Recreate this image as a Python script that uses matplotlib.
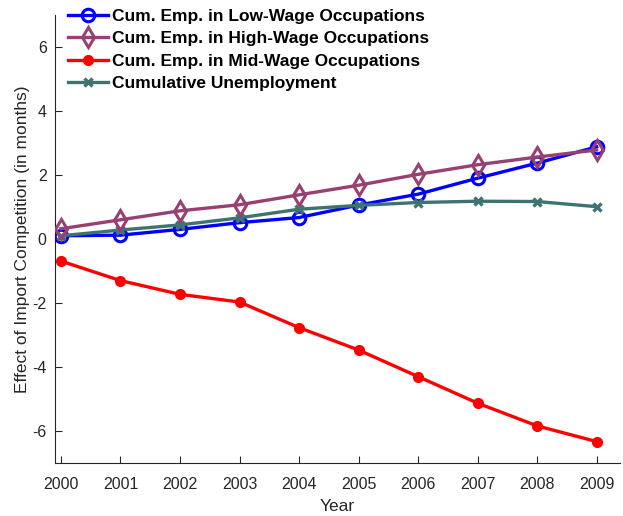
import matplotlib
matplotlib.use("Agg")
import matplotlib.pyplot as plt

plt.rcParams['font.family'] = ['Liberation Sans', 'DejaVu Sans']
plt.rcParams['axes.unicode_minus'] = False

years = [2000, 2001, 2002, 2003, 2004, 2005, 2006, 2007, 2008, 2009]
low_wage = [0.10, 0.12, 0.30, 0.51, 0.67, 1.06, 1.40, 1.90, 2.37, 2.88]
high_wage = [0.32, 0.60, 0.88, 1.07, 1.38, 1.68, 2.02, 2.32, 2.56, 2.78]
mid_wage = [-0.69, -1.30, -1.73, -1.97, -2.77, -3.47, -4.30, -5.13, -5.84, -6.33]
unemployment = [0.10, 0.28, 0.44, 0.66, 0.93, 1.05, 1.14, 1.18, 1.17, 1.01]

labels = ['Cum. Emp. in Low-Wage Occupations',
          'Cum. Emp. in High-Wage Occupations',
          'Cum. Emp. in Mid-Wage Occupations',
          'Cumulative Unemployment']
yticks = [-6, -4, -2, 0, 2, 4, 6]

fig = plt.figure(figsize=(6.23, 5.16), dpi=100)
ax = fig.add_axes([0.0883, 0.1027, 0.9067, 0.8683])

ax.plot(years, low_wage, color=(0, 0, 1), lw=2.4, marker='o', ms=9,
        mfc='none', mew=2.2, label=labels[0], zorder=3)
ax.plot(years, high_wage, color=(0.6, 0.25, 0.45), lw=2.4, marker='d', ms=10,
        mfc='none', mew=2.2, label=labels[1], zorder=4)
ax.plot(years, mid_wage, color=(1, 0, 0), lw=2.4, marker='o', ms=7,
        mfc=(1, 0, 0), mew=1, label=labels[2], zorder=3)
ax.plot(years, unemployment, color=(0.24, 0.45, 0.44), lw=2.4, marker='x', ms=6,
        mew=2.4, label=labels[3], zorder=3)

ax.set_xlim(1999.9, 2009.39)
ax.set_ylim(-7, 7)
ax.set_xticks(years)
ax.set_yticks(yticks)
ax.tick_params(direction='in', length=5, width=0.8, colors='#262626',
               labelsize=11.5, pad=6)
ax.tick_params(axis='x', pad=10)
for s in ['top', 'right']:
    ax.spines[s].set_visible(False)
for s in ['left', 'bottom']:
    ax.spines[s].set_color('#262626')
    ax.spines[s].set_linewidth(0.8)

ax.set_xlabel('Year', fontsize=12.5, color='#262626', labelpad=5)
ax.set_ylabel('Effect of Import Competition (in months)', fontsize=12.5,
              color='#262626', labelpad=2)

leg = ax.legend(loc='upper left', bbox_to_anchor=(0.104, 0.99),
                bbox_transform=fig.transFigure, frameon=False,
                prop={'weight': 'bold', 'size': 12.5}, handlelength=2.3,
                handletextpad=0.2, labelspacing=0.42, borderaxespad=0,
                borderpad=0.2)

fig.savefig('out.png', dpi=100)
